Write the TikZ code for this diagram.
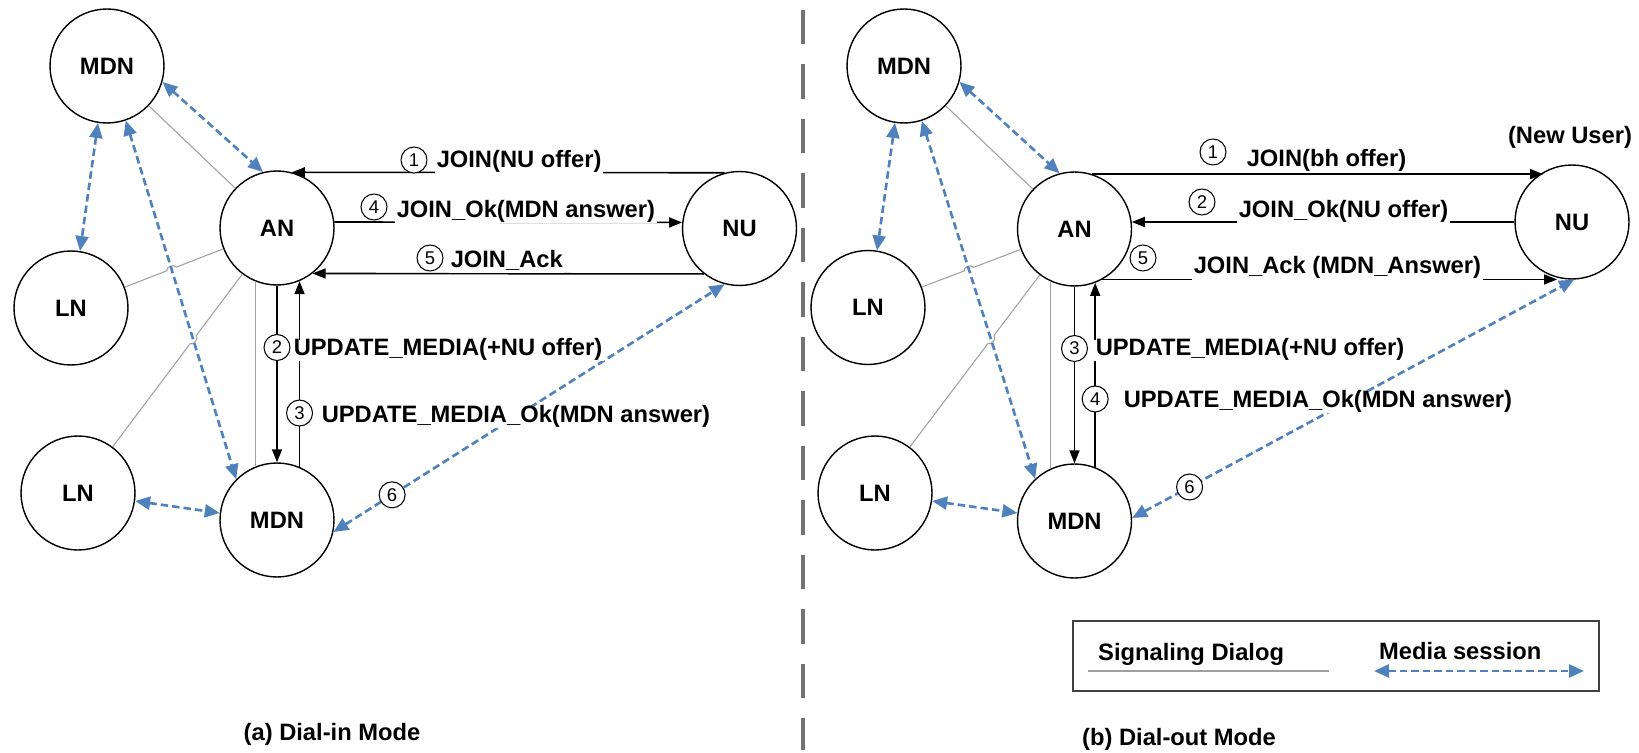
\documentclass[tikz,border=0pt]{standalone}
\usepackage{fontspec}
\setmainfont{Liberation Sans}
\usetikzlibrary{arrows.meta,calc,intersections}
\definecolor{mediablue}{RGB}{79,129,189}
\definecolor{linkgray}{RGB}{160,160,160}
\begin{document}
\begin{tikzpicture}[x=0.02cm,y=-0.02cm,
  font=\fontsize{13.5}{16}\selectfont\bfseries,
  party/.style={circle,draw=black,line width=0.8pt,fill=white,minimum size=2.28cm,inner sep=0pt},
  sig/.style={draw=black,line width=0.9pt,-{Triangle[length=0.26cm,width=0.2cm]}},
  siglink/.style={draw=linkgray,line width=0.6pt},
  media/.style={draw=mediablue,line width=1.5pt,dash pattern=on 0.15cm off 0.08cm,
    {Triangle[length=0.3cm,width=0.26cm]}-{Triangle[length=0.3cm,width=0.26cm]}},
  seq/.style={circle,draw=black,solid,line width=0.6pt,fill=white,text=black,minimum size=0.52cm,
    inner sep=0pt,font=\fontsize{10.5}{10.5}\selectfont\mdseries},
  msg/.style={fill=white,anchor=base west,inner xsep=0.8pt,inner ysep=1pt,text height=0.75em,text depth=0.25em},
  captiontext/.style={anchor=base},
  divider/.style={draw=black!55,line width=2pt,dash pattern=on 0.69cm off 0.4cm}
]
\useasboundingbox (0,0) rectangle (1639,753);

% ---------------- (a) dial-in mode ----------------
\node[party] (MDNt) at (107,66) {MDN};
\node[party] (AN) at (277,228) {AN};
\node[party] (LNt) at (71,308) {LN};
\node[party] (LNb) at (78,493) {LN};
\node[party] (MDNb) at (277,520) {MDN};
\node[party] (NU) at (739.5,228.5) {NU};

% signalling links (with hops over the media session)
\path[name path=blA] (MDNt.-71) -- (MDNb.135);
\path[name path=gA2] (LNt) -- (AN);
\path[name path=gA3] (AN) -- (LNb);
\path[name intersections={of=blA and gA2, by=hA2}];
\path[name intersections={of=blA and gA3, by=hA3}];
\draw[siglink] (MDNt) -- (AN);
\draw[siglink] (LNt) -- ($(hA2)!0.1cm!(LNt)$) to[bend left=90] ($(hA2)!0.1cm!(AN)$) -- (AN);
\draw[siglink] (AN) -- ($(hA3)!0.1cm!(AN)$) to[bend left=90] ($(hA3)!0.1cm!(LNb)$) -- (LNb);
\draw[siglink] (AN.-112) -- (MDNb.112);

% media sessions
\draw[media] (MDNt.-16) -- (AN.104);
\draw[media] (MDNt.261) -- (LNt.81);
\draw[media] (MDNt.-71) -- (MDNb.135);
\draw[media] (LNb.-8) -- (MDNb.173);
\draw[media] (MDNb.-12) -- node[seq,pos=0.15] (n6a) {6} (NU.255);

% messages
\draw[sig] (NU.105) -- (AN.75);
\draw[sig] (AN.6) -- (NU.174);
\draw[sig] (NU.232) -- (AN.-52);
\draw[sig] (AN.south) -- node[seq,pos=0.35] (n2a) {2} (MDNb.north);
\draw[sig] (MDNb.67) -- node[seq,pos=0.29] (n3a) {3} (AN.-67);

\node[seq] (n1a) at (414,160) {1};
\node[msg] (m1a) at (435,168) {JOIN(NU offer)};
\node[seq] (n4a) at (374,207) {4};
\node[msg] (m4a) at (395,217) {JOIN\_Ok(MDN answer)};
\node[seq] (n5a) at (430,258) {5};
\node[msg] (m5a) at (449,267) {JOIN\_Ack};
\node[msg] (m2a) at (292,355) {UPDATE\_MEDIA(+NU offer)};
\node[msg] (m3a) at (320,422) {UPDATE\_MEDIA\_Ok(MDN answer)};

\node[captiontext] (capA) at (332,740) {(a) Dial-in Mode};

% ---------------- separator ----------------
\coordinate (divTop) at (803,10);
\coordinate (divBot) at (803,750);
\draw[divider] (divTop) -- (divBot);

% ---------------- (b) dial-out mode ----------------
\node[party] (MDNt2) at (904,66) {MDN};
\node[party] (AN2) at (1074.5,229) {AN};
\node[party] (LNt2) at (868,307.5) {LN};
\node[party] (LNb2) at (875,493) {LN};
\node[party] (MDNb2) at (1074.5,521) {MDN};
\node[party] (NU2) at (1572,222) {NU};
\node (newuser) at (1570,137) {(New User)};

\path[name path=blB] (MDNt2.-72) -- (MDNb2.133);
\path[name path=gB2] (LNt2) -- (AN2);
\path[name path=gB3] (AN2) -- (LNb2);
\path[name intersections={of=blB and gB2, by=hB2}];
\path[name intersections={of=blB and gB3, by=hB3}];
\draw[siglink] (MDNt2) -- (AN2);
\draw[siglink] (LNt2) -- ($(hB2)!0.1cm!(LNt2)$) to[bend left=90] ($(hB2)!0.1cm!(AN2)$) -- (AN2);
\draw[siglink] (AN2) -- ($(hB3)!0.1cm!(AN2)$) to[bend left=90] ($(hB3)!0.1cm!(LNb2)$) -- (LNb2);
\draw[siglink] (AN2.-115) -- (MDNb2.115);

\draw[media] (MDNt2.-16) -- (AN2.105);
\draw[media] (MDNt2.261) -- (LNt2.81);
\draw[media] (MDNt2.-72) -- (MDNb2.133);
\draw[media] (LNb2.-8) -- (MDNb2.172);
\draw[media] (MDNb2.3) -- node[seq,pos=0.13] (n6b) {6} (NU2.272);

\draw[sig] (AN2.72) -- (AN2.72 -| NU2.120);
\draw[sig] (NU2.west) -- (NU2.west -| AN2.7);
\draw[sig] (AN2.-61) -- (AN2.-61 -| NU2.255);
\draw[sig] (AN2.south) -- node[seq,pos=0.35] (n3b) {3} (MDNb2.north);
\draw[sig] (MDNb2.69) -- node[seq,pos=0.37] (n4b) {4} (AN2.-69);

\node[seq] (n1b) at (1213,152) {1};
\node[msg] (m1b) at (1245,167) {JOIN(bh offer)};
\node[seq] (n2b) at (1202,202) {2};
\node[msg] (m2b) at (1237,217) {JOIN\_Ok(NU offer)};
\node[seq] (n5b) at (1143,258) {5};
\node[msg] (m5b) at (1192,274) {JOIN\_Ack (MDN\_Answer)};
\node[msg] (m3b) at (1094,355) {UPDATE\_MEDIA(+NU offer)};
\node[msg] (m4b) at (1122,407) {UPDATE\_MEDIA\_Ok(MDN answer)};

% legend
\node[draw=black!75,line width=1.3pt,minimum width=10.52cm,minimum height=1.4cm,inner sep=0pt] (legend) at (1336,656) {};
\node[anchor=base west] (lgSigTxt) at (1092,660) {Signaling Dialog};
\node[anchor=base west] (lgMedTxt) at (1373,659) {Media session};
\coordinate (lgSigA) at (1088,671);
\coordinate (lgSigB) at (1329,671);
\coordinate (lgMedA) at (1374,671);
\coordinate (lgMedB) at (1584,671);
\draw[siglink,line width=1pt] (lgSigA) -- (lgSigB);
\draw[media] (lgMedA) -- (lgMedB);

\node[captiontext] (capB) at (1179,745) {(b) Dial-out Mode};
\end{tikzpicture}
\end{document}
